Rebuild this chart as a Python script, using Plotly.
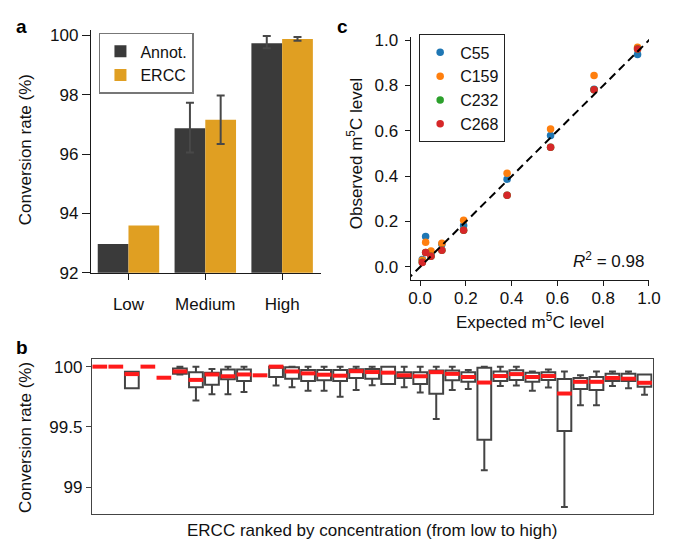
import plotly.graph_objects as go

# ---------------- data ----------------
# Panel a
groups = ["Low", "Medium", "High"]
annot_rate = [92.97, 96.87, 99.74]
annot_err_hi = [None, 97.73, 99.98]
annot_err_lo = [None, 96.05, 99.57]
ercc_rate = [93.59, 97.16, 99.88]
ercc_err_hi = [None, 97.98, 99.95]
ercc_err_lo = [None, 96.34, 99.82]

# Panel c
expected = [0.0095, 0.024, 0.0475, 0.095, 0.19, 0.38, 0.57, 0.76, 0.95]
obs_c55 = [0.033, 0.134, 0.060, 0.100, 0.183, 0.387, 0.580, 0.784, 0.937]
obs_c159 = [0.029, 0.109, 0.070, 0.104, 0.206, 0.413, 0.608, 0.844, 0.969]
obs_c232 = [0.020, 0.063, 0.047, 0.073, 0.161, 0.316, 0.528, 0.781, 0.961]
obs_c268 = [0.019, 0.063, 0.047, 0.073, 0.161, 0.316, 0.528, 0.781, 0.961]
identity_line = [-0.06, 1.05]
r2_text = "<i>R</i><sup>2</sup> = 0.98"

# Panel b (35 ERCC, ranked by concentration)
ercc_rank = list(range(1, 36))
b_upper = [100, 100, 99.957, 100, 99.908, 100, 100, 99.98, 100, 100,
           99.928, 100, 100, 100, 100, 100, 100, 100, 100, 100,
           100, 100, 100, 99.973, 100, 100, 100, 99.96, 99.976, 99.96,
           99.928, 99.96, 99.96, 99.96, 99.935]
b_q3 = [100, 100, 99.957, 100, 99.908, 99.985, 99.954, 99.95, 99.976, 99.976,
        99.928, 100, 99.995, 99.973, 99.973, 99.973, 99.978, 99.98, 100, 99.954,
        99.954, 99.968, 99.968, 99.954, 99.99, 99.96, 99.97, 99.95, 99.954, 99.898,
        99.906, 99.914, 99.94, 99.94, 99.935]
b_median = [100, 100, 99.938, 100, 99.908, 99.96, 99.89, 99.935, 99.92, 99.935,
            99.928, 100, 99.96, 99.944, 99.933, 99.925, 99.962, 99.955, 99.95, 99.928,
            99.92, 99.954, 99.94, 99.914, 99.868, 99.922, 99.938, 99.914, 99.922, 99.777,
            99.874, 99.874, 99.906, 99.90, 99.866]
b_q1 = [100, 100, 99.82, 100, 99.908, 99.94, 99.83, 99.85, 99.895, 99.88,
        99.928, 99.914, 99.90, 99.88, 99.887, 99.88, 99.906, 99.9, 99.855, 99.906,
        99.855, 99.775, 99.887, 99.874, 99.394, 99.88, 99.89, 99.874, 99.89, 99.466,
        99.815, 99.807, 99.88, 99.88, 99.834]
b_lower = [100, 100, 99.82, 100, 99.908, 99.935, 99.72, 99.77, 99.77, 99.79,
           99.928, 99.844, 99.83, 99.80, 99.80, 99.75, 99.807, 99.845, 99.855, 99.83,
           99.785, 99.566, 99.807, 99.815, 99.14, 99.84, 99.844, 99.80, 99.826, 98.837,
           99.68, 99.68, 99.84, 99.82, 99.767]

# ---------------- styles ----------------
W, H = 675, 549
FONT = "Liberation Sans, Arial, Helvetica, sans-serif"
FS = 17
LEG_FS = 16
AX = "#1a1a1a"
BAR_W = 0.4


def px_x(v):
    return v / W


def px_y(v):
    return 1 - v / H


fig = go.Figure()

# ---- Panel a: bars ----
xs = list(range(len(groups)))
fig.add_trace(go.Bar(x=xs, y=annot_rate, offset=-BAR_W, width=BAR_W,
                     marker=dict(color="#3a3a3a", line=dict(width=0)),
                     name="Annot.", xaxis="x", yaxis="y", legend="legend"))
fig.add_trace(go.Bar(x=xs, y=ercc_rate, offset=0, width=BAR_W,
                     marker=dict(color="#e09f22", line=dict(width=0)),
                     name="ERCC", xaxis="x", yaxis="y", legend="legend"))


def err_trace(vals, hi, lo, shift):
    ex, ey, eplus, eminus = [], [], [], []
    for i, (v, h, l) in enumerate(zip(vals, hi, lo)):
        if h is None:
            continue
        ex.append(i + shift)
        ey.append(v)
        eplus.append(h - v)
        eminus.append(v - l)
    return go.Scatter(x=ex, y=ey, mode="markers",
                      marker=dict(size=1, opacity=0),
                      error_y=dict(type="data", array=eplus, arrayminus=eminus,
                                   symmetric=False, color="#484848",
                                   thickness=2, width=4),
                      showlegend=False, hoverinfo="skip",
                      xaxis="x", yaxis="y")


fig.add_trace(err_trace(annot_rate, annot_err_hi, annot_err_lo, -BAR_W / 2))
fig.add_trace(err_trace(ercc_rate, ercc_err_hi, ercc_err_lo, BAR_W / 2))

# ---- Panel b: boxes ----
fig.add_trace(go.Box(x=ercc_rank, q1=b_q1, median=b_median, q3=b_q3,
                     lowerfence=b_lower, upperfence=b_upper,
                     width=0.86, whiskerwidth=0.5, fillcolor="white",
                     line=dict(color="#444444", width=2),
                     boxpoints=False, showlegend=False, hoverinfo="skip",
                     xaxis="x2", yaxis="y2"))
fig.add_trace(go.Scatter(x=ercc_rank, y=b_median, mode="markers",
                         marker=dict(symbol="line-ew", size=10.5,
                                     line=dict(color="#ff1a1a", width=4)),
                         showlegend=False, hoverinfo="skip",
                         xaxis="x2", yaxis="y2", cliponaxis=False))

# ---- Panel c: scatter ----
series = [("C55", obs_c55, "#1f77b4"), ("C159", obs_c159, "#ff7f0e"),
          ("C232", obs_c232, "#2ca02c"), ("C268", obs_c268, "#d62728")]
for name, ys, col in series:
    fig.add_trace(go.Scatter(x=expected, y=ys, mode="markers", name=name,
                             marker=dict(color=col, size=7.5),
                             xaxis="x3", yaxis="y3", legend="legend2",
                             cliponaxis=False))
fig.add_trace(go.Scatter(x=identity_line, y=identity_line, mode="lines",
                         line=dict(color="black", width=2, dash="8px,5px"),
                         showlegend=False, hoverinfo="skip",
                         xaxis="x3", yaxis="y3"))

tickfont = dict(family=FONT, size=FS, color="#111")

fig.update_layout(
    width=W, height=H, autosize=False,
    margin=dict(l=0, r=0, t=0, b=0),
    paper_bgcolor="white", plot_bgcolor="white",
    font=dict(family=FONT, size=FS, color="#111"),
    barmode="overlay",
    xaxis=dict(domain=[px_x(90.7), px_x(325.3)], range=[-0.49, 2.5],
               tickvals=xs, ticktext=groups, showgrid=False, zeroline=False,
               showline=True, linecolor=AX, linewidth=1, ticks="outside",
               ticklen=6, tickcolor=AX, tickfont=tickfont,
               ticklabelstandoff=10, anchor="y"),
    yaxis=dict(domain=[px_y(274.7), px_y(24.3)], range=[92, 100.2],
               tickvals=[92, 94, 96, 98, 100], showgrid=False, zeroline=False,
               showline=True, linecolor=AX, linewidth=1, ticks="outside",
               ticklen=8, tickcolor=AX, tickfont=tickfont, anchor="x"),
    xaxis2=dict(domain=[px_x(91.7), px_x(664.3)], range=[0.5, 35.5],
                showticklabels=False, ticks="", showgrid=False, zeroline=False,
                showline=True, mirror=True, linecolor="#444", linewidth=1,
                anchor="y2"),
    yaxis2=dict(domain=[px_y(523), px_y(364)], range=[98.78, 100.06],
                tickvals=[99, 99.5, 100], ticktext=["99", "99.5", "100"],
                showgrid=False, zeroline=False, showline=True, mirror=True,
                linecolor="#444", linewidth=1, ticks="outside", ticklen=5,
                tickcolor="#444", tickfont=tickfont, anchor="x2"),
    xaxis3=dict(domain=[px_x(417.3), px_x(660.7)], range=[-0.0415, 1.0],
                tickvals=[0, 0.2, 0.4, 0.6, 0.8, 1.0], tickformat=".1f",
                showgrid=False, zeroline=False, showline=True, linecolor=AX,
                linewidth=1, ticks="outside", ticklen=5, tickcolor=AX,
                tickfont=tickfont, ticklabelstandoff=-3, anchor="y3"),
    yaxis3=dict(domain=[px_y(282.7), px_y(31.7)], range=[-0.06, 1.015],
                tickvals=[0, 0.2, 0.4, 0.6, 0.8, 1.0], tickformat=".1f",
                showgrid=False, zeroline=False, showline=True, linecolor=AX,
                linewidth=1, ticks="outside", ticklen=5, tickcolor=AX,
                tickfont=tickfont, ticklabelstandoff=3, anchor="x3"),
    legend=dict(x=px_x(99), y=px_y(27.7), xanchor="left", yanchor="top",
                bordercolor="#777", borderwidth=1.5, bgcolor="white",
                font=dict(family=FONT, size=LEG_FS, color="#111"),
                tracegroupgap=0, itemwidth=30),
    legend2=dict(x=px_x(426), y=px_y(29.3), xanchor="left", yanchor="top",
                 bordercolor="#222", borderwidth=1, bgcolor="white",
                 font=dict(family=FONT, size=LEG_FS, color="#111"),
                 tracegroupgap=0, itemwidth=30),
)

ann = []
# panel labels
for lab, x, y in [("a", 20, 21), ("c", 348, 21), ("b", 20, 352)]:
    ann.append(dict(text=f"<b>{lab}</b>", x=px_x(x), y=px_y(y), xref="paper",
                    yref="paper", showarrow=False, xanchor="center",
                    yanchor="middle", font=dict(family=FONT, size=19, color="black")))
# axis titles
ann.append(dict(text="Conversion rate (%)", x=px_x(23.5), y=px_y(148.5),
                xref="paper", yref="paper", showarrow=False, textangle=-90,
                xanchor="center", yanchor="middle", font=dict(size=FS)))
ann.append(dict(text="Conversion rate (%)", x=px_x(23.5), y=px_y(445),
                xref="paper", yref="paper", showarrow=False, textangle=-90,
                xanchor="center", yanchor="middle", font=dict(size=FS)))
ann.append(dict(text="ERCC ranked by concentration (from low to high)",
                x=px_x(378), y=px_y(540), xref="paper", yref="paper",
                showarrow=False, xanchor="center", yanchor="middle",
                font=dict(size=FS)))
ann.append(dict(text="Observed m<sup>5</sup>C level", x=px_x(360.7),
                y=px_y(152.5), xref="paper", yref="paper", showarrow=False,
                textangle=-90, xanchor="center", yanchor="middle",
                font=dict(size=FS)))
ann.append(dict(text="Expected m<sup>5</sup>C level", x=px_x(538.7),
                y=px_y(324), xref="paper", yref="paper", showarrow=False,
                xanchor="center", yanchor="middle", font=dict(size=FS)))
ann.append(dict(text=r2_text, x=px_x(658), y=px_y(261.7), xref="paper",
                yref="paper", showarrow=False, xanchor="right",
                yanchor="middle", font=dict(size=FS)))
fig.update_layout(annotations=ann)

fig.write_html(
    "out.html",
    config={"responsive": False, "displayModeBar": False},
    post_script="document.body.style.margin='0px';"
                "document.body.style.padding='0px';"
                "document.body.style.overflow='hidden';",
)
